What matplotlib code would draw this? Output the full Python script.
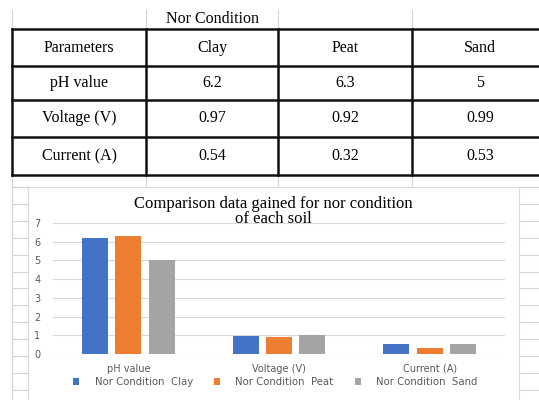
import numpy as np
import matplotlib
matplotlib.use("Agg")
import matplotlib.pyplot as plt
from matplotlib.patches import Rectangle

# table content
col_heads = ["Parameters", "Clay", "Peat", "Sand"]
params = ["pH value", "Voltage (V)", "Current (A)"]
clay = [6.2, 0.97, 0.54]
peat = [6.3, 0.92, 0.32]
sand = [5, 0.99, 0.53]
clay_txt = ["6.2", "0.97", "0.54"]
peat_txt = ["6.3", "0.92", "0.32"]
sand_txt = ["5", "0.99", "0.53"]
series_names = ["Nor Condition  Clay", "Nor Condition  Peat", "Nor Condition  Sand"]
colors = ["#4472C4", "#ED7D31", "#A5A5A5"]

W, H = 539, 400
fig = plt.figure(figsize=(W / 100, H / 100), dpi=100)
fig.patch.set_facecolor("white")

# background layer in pixel coordinates (y down)
bg = fig.add_axes([0, 0, 1, 1])
bg.set_xlim(0, W); bg.set_ylim(H, 0); bg.axis("off")

grid_c = "#D4D4D4"
col_x = [12, 146, 278, 412, 548]
row_y = [29, 66, 100, 137, 175]

# spreadsheet grid lines around the table
for x in col_x[:4]:
    bg.plot([x, x], [10, 29], color=grid_c, lw=0.8)
    bg.plot([x, x], [175, 187], color=grid_c, lw=0.8)

# spreadsheet grid around the chart
for y in np.arange(187, H, 16.9):
    bg.plot([12, 28], [y, y], color=grid_c, lw=0.8)
    bg.plot([519, W], [y, y], color=grid_c, lw=0.8)
bg.plot([12, 12], [187, H], color=grid_c, lw=0.8)
bg.plot([28, 28], [187, H], color=grid_c, lw=0.8)
bg.plot([12, W], [187, 187], color=grid_c, lw=0.8)

# chart box
bg.add_patch(Rectangle((28, 187), 491, 220, facecolor="white", edgecolor="#D9D9D9", lw=0.8, zorder=2))

# table
serif = "Liberation Serif"
fs = 11.5
bg.text((col_x[1] + col_x[2]) / 2, 19, "Nor Condition", ha="center", va="center", family=serif, fontsize=fs)
for y in row_y:
    bg.plot([col_x[0], col_x[-1]], [y, y], color="#111111", lw=1.8)
for x in col_x:
    bg.plot([x, x], [row_y[0], row_y[-1]], color="#111111", lw=1.8)

for j, h in enumerate(col_heads):
    bg.text((col_x[j] + col_x[j + 1]) / 2, (row_y[0] + row_y[1]) / 2, h,
            ha="center", va="center", family=serif, fontsize=fs)
for i, p in enumerate(params):
    yc = (row_y[i + 1] + row_y[i + 2]) / 2
    vals = [p, clay_txt[i], peat_txt[i], sand_txt[i]]
    for j, v in enumerate(vals):
        bg.text((col_x[j] + col_x[j + 1]) / 2, yc, v,
                ha="center", va="center", family=serif, fontsize=fs)

# bar chart
ax = fig.add_axes([53 / W, (H - 354) / H, (505 - 53) / W, (354 - 223) / H])
ax.set_facecolor("none")
x = np.arange(len(params))
off, bw = 0.222, 0.172
b1 = ax.bar(x - off, clay, bw, color=colors[0], zorder=3, label=series_names[0])
b2 = ax.bar(x, peat, bw, color=colors[1], zorder=3, label=series_names[1])
b3 = ax.bar(x + off, sand, bw, color=colors[2], zorder=3, label=series_names[2])
ax.set_xlim(-0.5, 2.5)
ax.set_ylim(0, 7)
ax.set_yticks(range(0, 8))
ax.set_xticks(x)
ax.set_xticklabels(params)
ax.yaxis.grid(True, color="#D9D9D9", lw=0.8, zorder=0)
for s in ax.spines.values():
    s.set_visible(False)
ax.tick_params(length=0, labelsize=7, colors="#595959")
ax.tick_params(axis="y", pad=9)
ax.tick_params(axis="x", pad=7)
ax.axhline(0, color="#D9D9D9", lw=0.8, zorder=1)

ax.legend(handles=[b1, b2, b3], loc="center", bbox_to_anchor=(275.5 / W, (H - 382) / H),
          bbox_transform=fig.transFigure, ncol=3, frameon=False, fontsize=7.3,
          labelcolor="#595959", handlelength=0.6, handleheight=0.6,
          handletextpad=1.5, columnspacing=2.1)

# chart title, drawn on top of everything
fig.text(273, 204, "Comparison data gained for nor condition", ha="center", va="center",
         family=serif, fontsize=12, transform=bg.transData, zorder=5)
fig.text(273, 219, "of each soil", ha="center", va="center",
         family=serif, fontsize=12, transform=bg.transData, zorder=5)

fig.savefig("out.png", dpi=100)
